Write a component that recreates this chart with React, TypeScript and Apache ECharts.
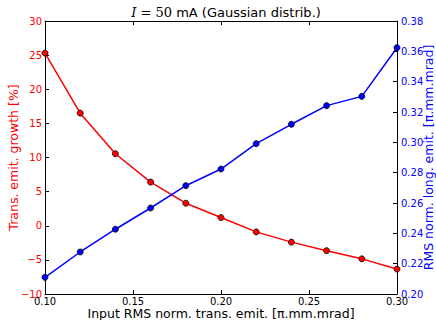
import React, { useEffect, useRef } from "react";
import * as echarts from "echarts";

const xValues = [0.1, 0.12, 0.14, 0.16, 0.18, 0.2, 0.22, 0.24, 0.26, 0.28, 0.3];
const transGrowth = [25.3, 16.5, 10.55, 6.4, 3.3, 1.2, -0.9, -2.4, -3.65, -4.85, -6.35];
const longEmit = [0.211, 0.2277, 0.2427, 0.2567, 0.2714, 0.2824, 0.2991, 0.3119, 0.3242, 0.3303, 0.3624];

const RED = "#ff0000";
const BLUE = "#0000ff";
const fmtMinus = (s: string) => s.replace("-", "\u2212");

export default function App() {
  const ref = useRef<HTMLDivElement>(null);
  useEffect(() => {
    document.body.style.margin = "0";
    const chart = echarts.init(ref.current!, null, { renderer: "svg" });
    const font = "DejaVu Sans";
    chart.setOption({
      animation: false,
      backgroundColor: "#ffffff",
      textStyle: { fontFamily: font },
      title: {
        text: "{i|I}{m| = 50} mA (Gaussian distrib.)",
        left: 221,
        textAlign: "center",
        top: 1,
        textStyle: {
          fontSize: 13,
          fontWeight: "normal",
          color: "#000",
          fontFamily: font,
          rich: {
            i: { fontFamily: "DejaVu Serif", fontStyle: "italic", fontSize: 13, color: "#000" },
            m: { fontFamily: "DejaVu Serif", fontSize: 13, color: "#000" },
          },
        },
      },
      grid: { left: 45, right: 39, top: 21, bottom: 26, containLabel: false, outerBoundsMode: "none" },
      xAxis: [
        {
          type: "value",
          min: 0.1,
          max: 0.3,
          interval: 0.05,
          position: "bottom",
          name: "Input RMS norm. trans. emit. [\u03c0.mm.mrad]",
          nameLocation: "middle",
          nameGap: 13,
          nameMoveOverlap: false,
          nameTextStyle: { fontSize: 12.5, color: "#000", fontFamily: font },
          axisLine: { show: true, onZero: false, lineStyle: { color: "#000", width: 1 } },
          axisTick: { show: true, inside: true, length: 4, lineStyle: { color: "#000" } },
          axisLabel: { color: "#000", fontSize: 10, margin: 2, formatter: (v: number) => v.toFixed(2) },
          splitLine: { show: false },
        },
        {
          type: "value",
          min: 0.1,
          max: 0.3,
          interval: 0.05,
          position: "top",
          axisLine: { show: true, onZero: false, lineStyle: { color: "#000", width: 1 } },
          axisTick: { show: true, inside: true, length: 4, lineStyle: { color: "#000" } },
          axisLabel: { show: false },
          splitLine: { show: false },
        },
      ],
      yAxis: [
        {
          type: "value",
          min: -10,
          max: 30,
          interval: 5,
          position: "left",
          name: "Trans. emit. growth [%]",
          nameLocation: "middle",
          nameGap: 25,
          nameMoveOverlap: false,
          nameTextStyle: { fontSize: 12.5, color: RED, fontFamily: font },
          axisLine: { show: true, onZero: false, lineStyle: { color: "#000", width: 1 } },
          axisTick: { show: true, inside: true, length: 4, lineStyle: { color: "#000" } },
          axisLabel: { color: RED, fontSize: 10, margin: 3, formatter: (v: number) => fmtMinus(String(v)) },
          splitLine: { show: false },
        },
        {
          type: "value",
          min: 0.2,
          max: 0.38,
          interval: 0.02,
          position: "right",
          name: "RMS norm. long. emit. [\u03c0.mm.mrad]",
          nameLocation: "middle",
          nameGap: 25,
          nameRotate: 90,
          nameMoveOverlap: false,
          nameTextStyle: { fontSize: 12.5, color: BLUE, fontFamily: font },
          axisLine: { show: true, onZero: false, lineStyle: { color: "#000", width: 1 } },
          axisTick: { show: true, inside: true, length: 4, lineStyle: { color: "#000" } },
          axisLabel: { color: BLUE, fontSize: 10, margin: 4, formatter: (v: number) => v.toFixed(2) },
          splitLine: { show: false },
        },
      ],
      series: [
        {
          type: "line",
          xAxisIndex: 0,
          yAxisIndex: 0,
          data: xValues.map((x, i) => [x, transGrowth[i]]),
          symbol: "circle",
          symbolSize: 6,
          lineStyle: { color: RED, width: 1.5 },
          itemStyle: { color: RED, borderColor: "#000", borderWidth: 0.8 },
          z: 3,
        },
        {
          type: "line",
          xAxisIndex: 0,
          yAxisIndex: 1,
          data: xValues.map((x, i) => [x, longEmit[i]]),
          symbol: "circle",
          symbolSize: 6,
          lineStyle: { color: BLUE, width: 1.5 },
          itemStyle: { color: BLUE, borderColor: "#000", borderWidth: 0.8 },
          z: 4,
        },
      ],
    });
    return () => chart.dispose();
  }, []);
  return <div ref={ref} style={{ width: 436, height: 320 }} />;
}
